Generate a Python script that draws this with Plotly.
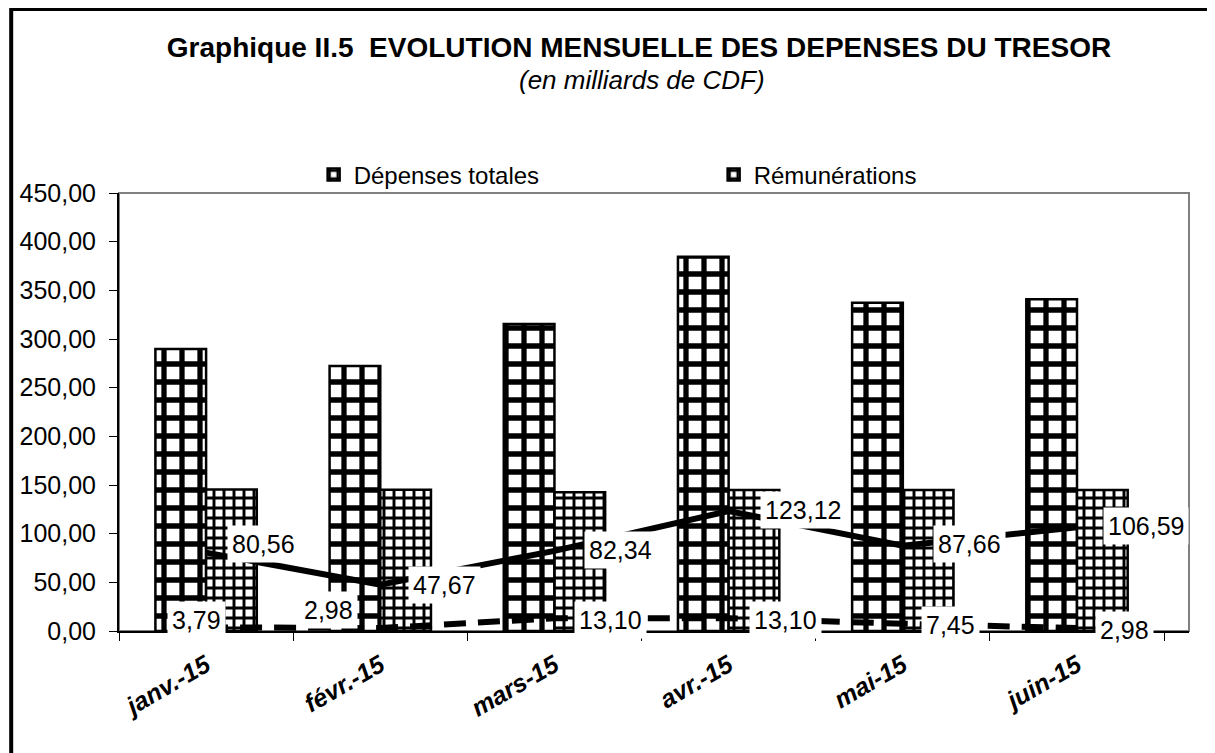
import plotly.graph_objects as go

# données (milliards de CDF)
mois = ["janv.-15", "févr.-15", "mars-15", "avr.-15", "mai-15", "juin-15"]
depenses_totales = [289.7, 272.3, 315.4, 384.6, 337.3, 340.8]
remunerations = [145.5, 145.0, 142.5, 144.9, 144.9, 144.9]
serie_plein = [80.56, 47.67, 82.34, 123.12, 87.66, 106.59]
serie_tirets = [3.79, 2.98, 13.10, 13.10, 7.45, 2.98]

# decalage des etiquettes (pixels), comme deplacees a la main dans Excel
decal_plein = [(21, 9), (28, 0), (30, 1), (31, 1), (30, 2), (26, 1)]
decal_tirets = [(-39, 7), (-81, 18), (20, -2), (20, -2), (18, -1), (18, -2)]

FONT = "Liberation Sans, Arial, sans-serif"

# la page html ajoute 8 px de marge : on travaille en pixels de l'image cible
OFF = 8
W, H = 1215 - OFF, 753 - OFF
L, R, T, B = 117 - OFF, 26, 193 - OFF, 122
PW, PH = W - L - R, H - T - B


def px_x(x):
    return (x - OFF - L) / PW


def px_y(y):
    return (H - B - (y - OFF)) / PH


def fmt(v):
    return f"{v:.2f}".replace(".", ",")


fig = go.Figure()

fig.add_trace(go.Bar(
    x=mois, y=depenses_totales, name="Dépenses totales",
    marker=dict(color="black", line=dict(color="black", width=2.5),
                pattern=dict(shape="+", size=18, solidity=0.5,
                             fgcolor="black", bgcolor="white",
                             fgopacity=1, fillmode="replace")),
))
fig.add_trace(go.Bar(
    x=mois, y=remunerations, name="Rémunérations",
    marker=dict(color="black", line=dict(color="black", width=2.5),
                pattern=dict(shape="+", size=10, solidity=0.5,
                             fgcolor="black", bgcolor="white",
                             fgopacity=1, fillmode="replace")),
))
fig.add_trace(go.Scatter(
    x=mois, y=serie_plein, mode="lines", showlegend=False,
    line=dict(color="black", width=6),
))
fig.add_trace(go.Scatter(
    x=mois, y=serie_tirets, mode="lines", showlegend=False,
    line=dict(color="black", width=6, dash="22px,12px"),
))

annotations = []
for serie, decal in ((serie_plein, decal_plein), (serie_tirets, decal_tirets)):
    for m, v, (dx, dy) in zip(mois, serie, decal):
        annotations.append(dict(
            x=m, y=v, xref="x", yref="y", text=fmt(v), showarrow=False,
            xanchor="left", yanchor="middle", xshift=dx, yshift=dy,
            bgcolor="white", borderpad=4,
            font=dict(family=FONT, size=25, color="black"),
        ))

annotations.append(dict(
    x=px_x(641), y=px_y(80), xref="paper", yref="paper",
    text="<i>(en milliards de CDF)</i>", showarrow=False,
    xanchor="center", yanchor="middle",
    font=dict(family=FONT, size=26, color="black"),
))

shapes = [
    # cadre gris de la zone de trace
    dict(type="rect", xref="paper", yref="paper", x0=0, x1=1, y0=0, y1=1,
         line=dict(color="#808080", width=2), layer="below"),
    # cadre noir autour du graphique
    dict(type="rect", xref="paper", yref="paper",
         x0=px_x(9), x1=px_x(1210), y0=px_y(770), y1=px_y(9),
         line=dict(color="black", width=4)),
]

fig.update_layout(
    width=W, height=H,
    margin=dict(l=L, r=R, t=T, b=B),
    paper_bgcolor="white", plot_bgcolor="white",
    separators=", ",
    font=dict(family=FONT, size=24, color="black"),
    title=dict(
        text="<b>Graphique II.5  EVOLUTION MENSUELLE DES DEPENSES DU TRESOR</b>",
        x=(639 - OFF) / W, xanchor="center", xref="container",
        y=1 - (47 - OFF) / H, yanchor="middle", yref="container",
        font=dict(family=FONT, size=28, color="black"),
    ),
    barmode="group", bargap=0.418, bargroupgap=0,
    showlegend=True,
    legend=dict(
        orientation="h", x=px_x(312), xanchor="left",
        y=px_y(175), yanchor="middle",
        entrywidth=355, entrywidthmode="pixels",
        font=dict(family=FONT, size=24, color="black"),
        bgcolor="rgba(0,0,0,0)",
    ),
    xaxis=dict(
        type="category", showline=True, linecolor="black", linewidth=2,
        ticks="outside", ticklen=8, tickcolor="black", tickson="boundaries",
        tickangle=-30, showgrid=False,
        tickfont=dict(family=FONT, size=25, color="black"),
        ticklabelstandoff=8,
    ),
    yaxis=dict(
        range=[0, 450], dtick=50, tickformat=".2f",
        showline=True, linecolor="black", linewidth=2,
        ticks="outside", ticklen=8, tickcolor="black",
        showgrid=False, zeroline=False,
        tickfont=dict(family=FONT, size=25, color="black"),
        ticklabelstandoff=8,
    ),
    annotations=annotations,
    shapes=shapes,
)

# etiquettes de l'axe x en gras italique
fig.update_xaxes(ticktext=[f"<b><i>{m}</i></b>" for m in mois], tickvals=mois)

fig.write_html("out.html")
